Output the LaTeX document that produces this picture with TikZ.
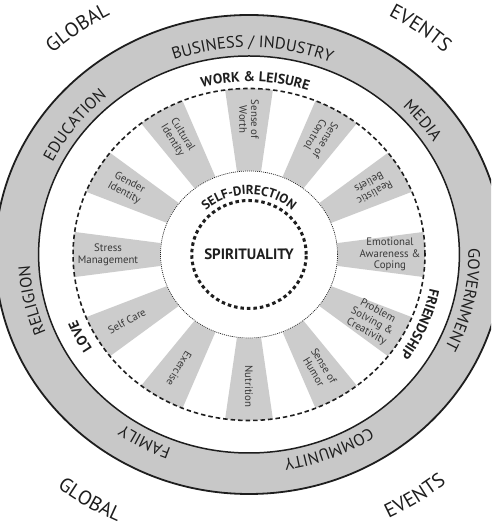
\documentclass[tikz,border=0pt]{standalone}
\usepackage{fontspec}
\setmainfont{PT Sans}
\usetikzlibrary{decorations.text}
\definecolor{ringgray}{RGB}{200,200,200}
\definecolor{spokegray}{RGB}{204,204,204}
\definecolor{inkc}{RGB}{30,30,30}
\newcommand\outerf{\fontsize{20}{22}\selectfont}
\newcommand\ringf{\fontsize{16.5}{18}\selectfont}
\newcommand\innerf{\fontsize{14}{16}\selectfont\bfseries}
\newcommand\selff{\fontsize{13}{15}\selectfont\bfseries}
\newcommand\spokef{\fontsize{10.8}{11.8}\selectfont}
\begin{document}
\begin{tikzpicture}[x=1pt,y=1pt,
  arclabel/.style={decorate, decoration={text along path, text align=center, text color=inkc}},
  spoketext/.style={font=\spokef, text=black!78, align=center, inner sep=0pt},
  ringline/.style={line width=1.5pt, draw=inkc},
]
\useasboundingbox (0,0) rectangle (491,526);
\clip (0,0) rectangle (491,526);
\fill[white] (0,0) rectangle (491,526);
\begin{scope}[shift={(249,271.5)}, xscale=1.06]
  % grey outer ring
  \fill[ringgray, even odd rule] (0,0) circle[radius=239.5] (0,0) circle[radius=198.5];
  \draw[ringline, line width=1.8pt] (0,0) circle[radius=239.5];
  \draw[ringline] (0,0) circle[radius=198.5];
  % spokes
  \foreach \a in {0,30,...,330}
    \fill[spokegray] ({\a-7.8}:84) arc[start angle={\a-7.8}, end angle={\a+7.8}, radius=84]
      -- ({\a+7.8}:166) arc[start angle={\a+7.8}, end angle={\a-7.8}, radius=166] -- cycle;
  % circles
  \draw[draw=inkc, line width=1.6pt, dash pattern=on 4.5pt off 3pt] (0,0) circle[radius=166];
  \draw[draw=inkc, line width=0.7pt, dash pattern=on 1pt off 1pt] (0,0) circle[radius=83.5];
  \draw[draw=inkc, line width=3pt, dash pattern=on 3.5pt off 3pt] (0,0) circle[radius=54];
  % outer words
  \path[arclabel, decoration={text={|\outerf|GLOBAL}}] (156:273) arc[start angle=156, end angle=96, radius=273];
  \path[arclabel, decoration={text={|\outerf|EVENTS}}] (84:273) arc[start angle=84, end angle=24, radius=273];
  \path[arclabel, decoration={text={|\outerf|GLOBAL}}] (208.3:295) arc[start angle=208.3, end angle=268.3, radius=295];
  \path[arclabel, decoration={text={|\outerf|EVENTS}}] (273.2:295) arc[start angle=273.2, end angle=333.2, radius=295];
  % ring words
  \path[arclabel, decoration={text={|\ringf|BUSINESS / INDUSTRY}}] (139:207) arc[start angle=139, end angle=39, radius=207];
  \path[arclabel, decoration={text={|\ringf|EDUCATION}}] (182.5:207) arc[start angle=182.5, end angle=102.5, radius=207];
  \path[arclabel, decoration={text={|\ringf|RELIGION}}] (232.4:207) arc[start angle=232.4, end angle=152.4, radius=207];
  \path[arclabel, decoration={text={|\ringf|FAMILY}}] (281.6:207) arc[start angle=281.6, end angle=201.6, radius=207];
  \path[arclabel, decoration={text={|\ringf|COMMUNITY}}] (331.6:207) arc[start angle=331.6, end angle=251.6, radius=207];
  \path[arclabel, decoration={text={|\ringf|GOVERNMENT}}] (387.7:207) arc[start angle=387.7, end angle=307.7, radius=207];
  \path[arclabel, decoration={text={|\ringf|MEDIA}}] (68.8:207) arc[start angle=68.8, end angle=8.8, radius=207];
  % inner white ring words
  \path[arclabel, decoration={text={|\innerf|WORK {\&} LEISURE}}] (128:173) arc[start angle=128, end angle=48, radius=173];
  \path[arclabel, decoration={text={|\innerf|LOVE}}] (236.8:175) arc[start angle=236.8, end angle=176.8, radius=175];
  \path[arclabel, decoration={text={|\innerf|FRIENDSHIP}}] (377.3:174) arc[start angle=377.3, end angle=297.3, radius=174];
  % self-direction
  \path[arclabel, decoration={text={|\selff|SELF-DIRECTION}}] (170:60) arc[start angle=170, end angle=10, radius=60];
  \node[font=\fontsize{15}{17}\selectfont\bfseries, text=inkc, inner sep=0pt] (spirit) at (0,0) {SPIRITUALITY};
  % spoke texts
  \node[spoketext, rotate=-90]    (worth)   at (90:135)  {Sense of\\Worth};
  \node[spoketext, rotate=-121.5] (control) at (60:135)  {Sense of\\Control};
  \node[spoketext, rotate=-151.4] (beliefs) at (30:134)  {Realistic\\Beliefs};
  \node[spoketext, rotate=0]      (emot)    at (0:133)   {Emotional\\Awareness \&\\Coping};
  \node[spoketext, rotate=-28.6]  (problem) at (-30:134) {Problem\\Solving \&\\Creativity};
  \node[spoketext, rotate=-58.5]  (humor)   at (-60:132) {Sense of\\Humor};
  \node[spoketext, rotate=-90]    (nutr)    at (-90:132) {Nutrition};
  \node[spoketext, rotate=-121.5] (exer)    at (-120:132) {Exercise};
  \node[spoketext, rotate=28.6]   (selfc)   at (-150:133) {Self Care};
  \node[spoketext, rotate=0]      (stress)  at (180:133) {Stress\\Management};
  \node[spoketext, rotate=-28.6]  (gender)  at (150:133) {Gender\\Identity};
  \node[spoketext, rotate=-58.5]  (cult)    at (120:135) {Cultural\\Identity};
\end{scope}
\end{tikzpicture}
\end{document}
